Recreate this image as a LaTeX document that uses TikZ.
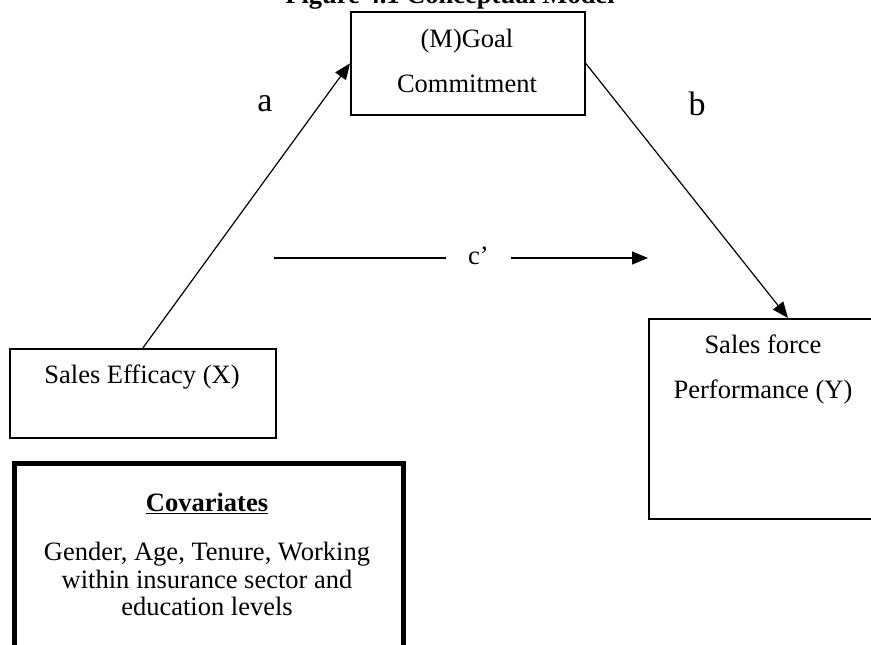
\documentclass[tikz,border=0pt]{standalone}
\usepackage{fontspec}
\setmainfont{Liberation Serif}
\usetikzlibrary{arrows.meta,calc}
\begin{document}
\begin{tikzpicture}[x=1pt,y=-1pt,
  txt/.style={font=\fontsize{26.5}{45}\selectfont, inner sep=0pt, align=center},
  lbl/.style={font=\fontsize{34}{40}\selectfont, inner sep=0pt},
  thinbox/.style={draw, line width=1.7pt, inner sep=0pt, anchor=north west},
  arr/.style={line width=1.2pt, -{Triangle[length=16pt,width=13pt]}},
  plain/.style={line width=1.2pt}]
\useasboundingbox (0,0) rectangle (871,645);
% title (clipped by the page, as in the reference)
\node[font=\fontsize{26.5}{30}\selectfont\bfseries, inner sep=0pt, anchor=base] (title) at (450,3) {Figure 4.1 Conceptual Model};
% boxes
\node[thinbox, minimum width=234pt, minimum height=103pt] (gc) at (350,11) {};
\node[thinbox, minimum width=266pt, minimum height=89pt] (se) at (9,348) {};
\node[thinbox, minimum width=240pt, minimum height=200pt] (sf) at (648,318) {};
\node[draw, line width=5pt, inner sep=0pt, anchor=north west, minimum width=389.5pt, minimum height=240pt] (cov) at (11.5,460.5) {};
% box texts
\node[txt] (gct) at (467,60.5) {(M)Goal\\Commitment};
\node[txt] (set) at (142,377) {Sales Efficacy (X)};
\node[txt] (sft) at (763,369) {Sales force\\Performance (Y)};
\node[txt, font=\fontsize{26.5}{30}\selectfont\bfseries] (covh) at (207,503) {\underline{Covariates}};
\node[txt, font=\fontsize{26.5}{27.5}\selectfont] (covt) at (207,579) {Gender, Age, Tenure, Working\\within insurance sector and\\education levels};
% labels
\node[lbl] (la) at (265,103.5) {a};
\node[lbl] (lb) at (697,103.5) {b};
\node[txt, minimum width=65pt] (lc) at (478.5,256) {c’};
% connectors
\coordinate (c1) at (274,258);
\coordinate (c2) at (648,258);
\coordinate (sfin) at (788,318);
\draw[arr] (se.north) -- (gc.west);
\draw[arr] (gc.east) -- (sfin);
\draw[plain] (c1) -- (c1 -| lc.west);
\draw[arr] (c2 -| lc.east) -- (c2);
\end{tikzpicture}
\end{document}
